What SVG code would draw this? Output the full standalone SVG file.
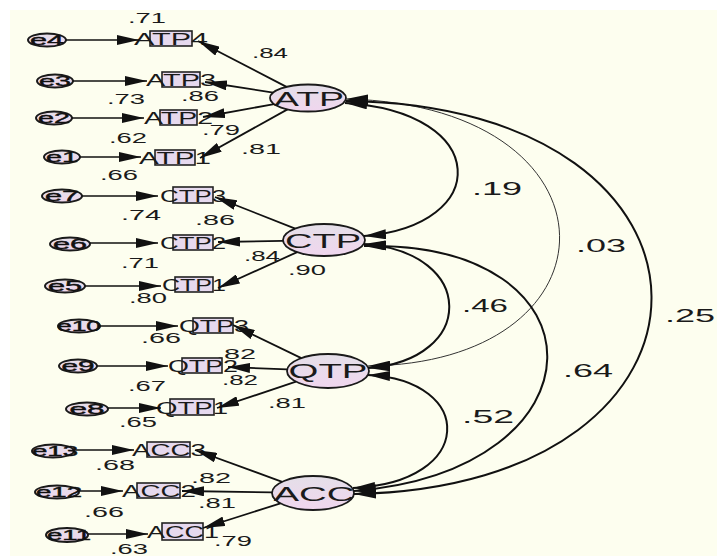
<svg xmlns="http://www.w3.org/2000/svg" width="717" height="556" viewBox="0 0 717 556">
<defs>
<style>
text { font-family: "Liberation Sans", Arial, sans-serif; fill: #1a1a1a; }
.lbl { font-size: 15.5px; text-anchor: middle; }
.cl { font-size: 18.5px; text-anchor: middle; }
.lat { fill: url(#lg); stroke: #1a1a1a; stroke-width: 1.8; }
.latt { font-size: 20px; text-anchor: middle; }
.err { fill: url(#lg); stroke: #1a1a1a; stroke-width: 2; }
.errt { font-size: 14px; text-anchor: middle; fill: #111; stroke: #111; stroke-width: 0.4; }
.box { fill: #E6D9EE; stroke: #222; stroke-width: 1.6; }
.boxt { font-size: 16.5px; text-anchor: middle; }
.ld { stroke: #111; stroke-width: 1.8; fill: none; marker-end: url(#ah); }
.el { stroke: #111; stroke-width: 1.5; fill: none; marker-end: url(#ah); }
.cov { stroke: #111; stroke-width: 2; fill: none; marker-start: url(#ah); marker-end: url(#ah); }
.thin { stroke: #333; stroke-width: 1; }
</style>
<linearGradient id="lg" x1="0" y1="0" x2="0" y2="1">
<stop offset="0" stop-color="#E4DFE8"/>
<stop offset="1" stop-color="#F0D6EE"/>
</linearGradient>
<marker id="ah" markerUnits="userSpaceOnUse" viewBox="0 0 22 10" refX="22" refY="5" markerWidth="22" markerHeight="10" orient="auto-start-reverse">
<path d="M0,0 L22,5 L0,10 z" fill="#111"/>
</marker>
</defs>
<rect x="0" y="0" width="717" height="556" fill="#ffffff"/>
<rect x="10" y="10" width="707" height="546" fill="#FDFEEF"/>

<g id="labels">
<text class="lbl" x="147" y="23" textLength="38" lengthAdjust="spacingAndGlyphs">.71</text>
<text class="lbl" x="270" y="58" textLength="36" lengthAdjust="spacingAndGlyphs">.84</text>
<text class="lbl" x="126" y="104" textLength="38" lengthAdjust="spacingAndGlyphs">.73</text>
<text class="lbl" x="200" y="101" textLength="38" lengthAdjust="spacingAndGlyphs">.86</text>
<text class="lbl" x="128" y="143" textLength="38" lengthAdjust="spacingAndGlyphs">.62</text>
<text class="lbl" x="221" y="135" textLength="38" lengthAdjust="spacingAndGlyphs">.79</text>
<text class="lbl" x="119" y="180" textLength="38" lengthAdjust="spacingAndGlyphs">.66</text>
<text class="lbl" x="261" y="154" textLength="40" lengthAdjust="spacingAndGlyphs">.81</text>
<text class="lbl" x="141" y="220" textLength="40" lengthAdjust="spacingAndGlyphs">.74</text>
<text class="lbl" x="215" y="225" textLength="40" lengthAdjust="spacingAndGlyphs">.86</text>
<text class="lbl" x="140" y="268" textLength="38" lengthAdjust="spacingAndGlyphs">.71</text>
<text class="lbl" x="262" y="261" textLength="36" lengthAdjust="spacingAndGlyphs">.84</text>
<text class="lbl" x="307" y="275" textLength="38" lengthAdjust="spacingAndGlyphs">.90</text>
<text class="lbl" x="148" y="303" textLength="38" lengthAdjust="spacingAndGlyphs">.80</text>
<text class="lbl" x="161" y="343" textLength="40" lengthAdjust="spacingAndGlyphs">.66</text>
<text class="lbl" x="236" y="359" textLength="40" lengthAdjust="spacingAndGlyphs">.82</text>
<text class="lbl" x="240" y="385" textLength="36" lengthAdjust="spacingAndGlyphs">.82</text>
<text class="lbl" x="147" y="391" textLength="38" lengthAdjust="spacingAndGlyphs">.67</text>
<text class="lbl" x="287" y="408" textLength="38" lengthAdjust="spacingAndGlyphs">.81</text>
<text class="lbl" x="138" y="427" textLength="38" lengthAdjust="spacingAndGlyphs">.65</text>
<text class="lbl" x="115" y="470" textLength="40" lengthAdjust="spacingAndGlyphs">.68</text>
<text class="lbl" x="211" y="483" textLength="40" lengthAdjust="spacingAndGlyphs">.82</text>
<text class="lbl" x="217" y="508" textLength="38" lengthAdjust="spacingAndGlyphs">.81</text>
<text class="lbl" x="104" y="517" textLength="40" lengthAdjust="spacingAndGlyphs">.66</text>
<text class="lbl" x="233" y="546" textLength="38" lengthAdjust="spacingAndGlyphs">.79</text>
<text class="lbl" x="129" y="554" textLength="38" lengthAdjust="spacingAndGlyphs">.63</text>
<text class="cl" x="497" y="195" textLength="50" lengthAdjust="spacingAndGlyphs">.19</text>
<text class="cl" x="601" y="252" textLength="50" lengthAdjust="spacingAndGlyphs">.03</text>
<text class="cl" x="690" y="322" textLength="50" lengthAdjust="spacingAndGlyphs">.25</text>
<text class="cl" x="485" y="312" textLength="46" lengthAdjust="spacingAndGlyphs">.46</text>
<text class="cl" x="588" y="377" textLength="50" lengthAdjust="spacingAndGlyphs">.64</text>
<text class="cl" x="488" y="423" textLength="52" lengthAdjust="spacingAndGlyphs">.52</text>
</g>

<g id="ATP"><ellipse class="lat" cx="308" cy="98" rx="38" ry="13.5"/><text class="latt" x="309" y="106" textLength="70" lengthAdjust="spacingAndGlyphs">ATP</text></g>
<g id="CTP"><ellipse class="lat" cx="324" cy="240" rx="41" ry="16"/><text class="latt" x="323" y="248" textLength="76" lengthAdjust="spacingAndGlyphs">CTP</text></g>
<g id="QTP"><ellipse class="lat" cx="328" cy="371" rx="41" ry="17"/><text class="latt" x="328" y="378" textLength="79" lengthAdjust="spacingAndGlyphs">QTP</text></g>
<g id="ACC"><ellipse class="lat" cx="313" cy="493" rx="41" ry="17"/><text class="latt" x="314" y="501" textLength="81" lengthAdjust="spacingAndGlyphs">ACC</text></g>

<g id="ATP4"><rect class="box" x="150" y="31" width="42" height="15"/><text class="boxt" x="171" y="44.5" textLength="74" lengthAdjust="spacingAndGlyphs">ATP4</text></g>
<g id="ATP3"><rect class="box" x="162" y="72" width="38" height="15"/><text class="boxt" x="181" y="85.5" textLength="70" lengthAdjust="spacingAndGlyphs">ATP3</text></g>
<g id="ATP2"><rect class="box" x="160" y="110" width="37" height="15"/><text class="boxt" x="178.5" y="123.5" textLength="69" lengthAdjust="spacingAndGlyphs">ATP2</text></g>
<g id="ATP1"><rect class="box" x="155" y="150" width="40" height="15"/><text class="boxt" x="175" y="163.5" textLength="72" lengthAdjust="spacingAndGlyphs">ATP1</text></g>
<g id="CTP3"><rect class="box" x="173" y="187" width="40" height="16"/><text class="boxt" x="193" y="201.5" textLength="66" lengthAdjust="spacingAndGlyphs">CTP3</text></g>
<g id="CTP2"><rect class="box" x="173" y="235" width="40" height="15"/><text class="boxt" x="193" y="248.5" textLength="66" lengthAdjust="spacingAndGlyphs">CTP2</text></g>
<g id="CTP1"><rect class="box" x="175" y="277" width="38" height="15"/><text class="boxt" x="194" y="290.5" textLength="64" lengthAdjust="spacingAndGlyphs">CTP1</text></g>
<g id="QTP3"><rect class="box" x="193" y="318" width="40" height="15"/><text class="boxt" x="214" y="331.5" textLength="70" lengthAdjust="spacingAndGlyphs">QTP3</text></g>
<g id="QTP2"><rect class="box" x="182" y="358" width="40" height="15"/><text class="boxt" x="203" y="371.5" textLength="70" lengthAdjust="spacingAndGlyphs">QTP2</text></g>
<g id="QTP1"><rect class="box" x="170" y="399" width="44" height="16"/><text class="boxt" x="192" y="413.5" textLength="72" lengthAdjust="spacingAndGlyphs">QTP1</text></g>
<g id="ACC3"><rect class="box" x="147" y="442" width="43" height="15"/><text class="boxt" x="169" y="455.5" textLength="74" lengthAdjust="spacingAndGlyphs">ACC3</text></g>
<g id="ACC2"><rect class="box" x="137" y="483" width="43" height="15"/><text class="boxt" x="159" y="496.5" textLength="74" lengthAdjust="spacingAndGlyphs">ACC2</text></g>
<g id="ACC1"><rect class="box" x="162" y="523" width="41" height="17"/><text class="boxt" x="183" y="537.5" textLength="72" lengthAdjust="spacingAndGlyphs">ACC1</text></g>

<g id="e4"><ellipse class="err" cx="47" cy="40" rx="19" ry="6.5"/><text class="errt" x="47" y="45" textLength="34" lengthAdjust="spacingAndGlyphs">e4</text></g>
<g id="e3"><ellipse class="err" cx="55" cy="81" rx="18" ry="6.5"/><text class="errt" x="55" y="86" textLength="32" lengthAdjust="spacingAndGlyphs">e3</text></g>
<g id="e2"><ellipse class="err" cx="54" cy="118" rx="18" ry="6.5"/><text class="errt" x="54" y="123" textLength="32" lengthAdjust="spacingAndGlyphs">e2</text></g>
<g id="e1"><ellipse class="err" cx="62" cy="157" rx="18" ry="6.5"/><text class="errt" x="62" y="162" textLength="32" lengthAdjust="spacingAndGlyphs">e1</text></g>
<g id="e7"><ellipse class="err" cx="62" cy="196" rx="20" ry="6.5"/><text class="errt" x="62" y="201" textLength="34" lengthAdjust="spacingAndGlyphs">e7</text></g>
<g id="e6"><ellipse class="err" cx="70" cy="244" rx="20" ry="6.5"/><text class="errt" x="70" y="249" textLength="34" lengthAdjust="spacingAndGlyphs">e6</text></g>
<g id="e5"><ellipse class="err" cx="65" cy="286" rx="20" ry="6.5"/><text class="errt" x="65" y="291" textLength="34" lengthAdjust="spacingAndGlyphs">e5</text></g>
<g id="e10"><ellipse class="err" cx="79" cy="326" rx="21" ry="6.5"/><text class="errt" x="79" y="331" textLength="44" lengthAdjust="spacingAndGlyphs">e10</text></g>
<g id="e9"><ellipse class="err" cx="78" cy="366" rx="19" ry="6.5"/><text class="errt" x="78" y="371" textLength="33" lengthAdjust="spacingAndGlyphs">e9</text></g>
<g id="e8"><ellipse class="err" cx="87" cy="409" rx="21" ry="6.5"/><text class="errt" x="87" y="414" textLength="35" lengthAdjust="spacingAndGlyphs">e8</text></g>
<g id="e13"><ellipse class="err" cx="53" cy="451" rx="21" ry="6.5"/><text class="errt" x="55" y="456" textLength="46" lengthAdjust="spacingAndGlyphs">e13</text></g>
<g id="e12"><ellipse class="err" cx="57" cy="492" rx="22" ry="6.5"/><text class="errt" x="59" y="497" textLength="46" lengthAdjust="spacingAndGlyphs">e12</text></g>
<g id="e11"><ellipse class="err" cx="67" cy="535" rx="21" ry="7"/><text class="errt" x="69" y="540" textLength="44" lengthAdjust="spacingAndGlyphs">e11</text></g>

<g id="connectors">
<line class="el" x1="66" y1="40" x2="139" y2="40"/>
<line class="el" x1="73" y1="81" x2="147" y2="81"/>
<line class="el" x1="72" y1="118" x2="144" y2="118"/>
<line class="el" x1="80" y1="157" x2="141" y2="157"/>
<line class="el" x1="82" y1="196" x2="158" y2="196"/>
<line class="el" x1="90" y1="243" x2="158" y2="243"/>
<line class="el" x1="85" y1="286" x2="161" y2="286"/>
<line class="el" x1="100" y1="326" x2="178" y2="326"/>
<line class="el" x1="97" y1="366" x2="168" y2="366"/>
<line class="el" x1="108" y1="408" x2="161" y2="408"/>
<line class="el" x1="74" y1="450" x2="134" y2="450"/>
<line class="el" x1="79" y1="491" x2="123" y2="491"/>
<line class="el" x1="88" y1="534" x2="148" y2="534"/>

<line class="ld" x1="286.5" y1="86.9" x2="198" y2="41"/>
<line class="ld" x1="273.2" y1="92.6" x2="205" y2="82"/>
<line class="ld" x1="274.1" y1="104.1" x2="203" y2="117"/>
<line class="ld" x1="287.5" y1="109.4" x2="200" y2="158"/>
<line class="ld" x1="295.2" y1="228.6" x2="215" y2="197"/>
<line class="ld" x1="283" y1="240.8" x2="218" y2="242"/>
<line class="ld" x1="297.2" y1="252.1" x2="218" y2="288"/>
<line class="ld" x1="301.3" y1="358.1" x2="233" y2="325"/>
<line class="ld" x1="287.2" y1="369.4" x2="228" y2="367"/>
<line class="ld" x1="296" y1="381.7" x2="217" y2="408"/>
<line class="ld" x1="282.2" y1="481.8" x2="195" y2="450"/>
<line class="ld" x1="272" y1="492.4" x2="182" y2="491"/>
<line class="ld" x1="280.5" y1="503.3" x2="203" y2="528"/>

<path class="cov" d="M345,103 C492,112 492,226 364,236"/>
<path class="cov thin" d="M346,99 C627,105 627,363 368,366"/>
<path class="cov" d="M346,101 C752,105 752,487 354,494"/>
<path class="cov" d="M364,244 C477,252 477,360 368,368"/>
<path class="cov" d="M364,246 C610,240 610,470 354,491"/>
<path class="cov" d="M368,375 C476,380 476,483 353,488"/>
</g>
</svg>
